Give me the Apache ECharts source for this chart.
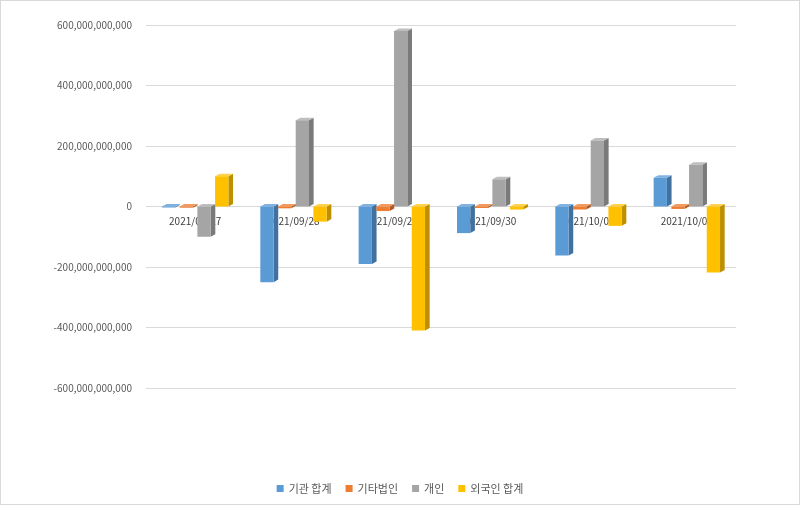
<!DOCTYPE html>
<html>
<head>
<meta charset="utf-8">
<script src="https://cdn.jsdelivr.net/npm/echarts@6/dist/echarts.min.js"></script>
<style>
html,body{margin:0;padding:0;background:#fff;}
#frame{width:800px;height:505px;box-sizing:border-box;border:1px solid #d9d9d9;}
#chart{width:798px;height:503px;}
</style>
</head>
<body>
<div id="frame"><div id="chart"></div></div>
<script>
const categories = ['2021/09/27','2021/09/28','2021/09/29','2021/09/30','2021/10/01','2021/10/05'];
const seriesNames = ['기관 합계','기타법인','개인','외국인 합계'];
const institution = [-3e9, -250e9, -190e9, -88e9, -162e9, 95e9];
const otherCorp = [-4e9, -6e9, -15e9, -5e9, -10e9, -8e9];
const individual = [-100e9, 285e9, 580e9, 90e9, 218e9, 138e9];
const foreigner = [100e9, -50e9, -410e9, -10e9, -64e9, -218e9];
const yTicks = {min: -600e9, max: 600e9, interval: 200e9};
const colors = ['#5B9BD5','#ED7D31','#A5A5A5','#FFC000'];
const sides = ['#41729F','#B15B22','#7A7A7A','#BE9000'];
const tops = ['#7FB2E0','#F29B60','#BEBEBE','#FFD24D'];

const gridTop = 24, gridBottom = 116, chartH = 503;
const gridH = chartH - gridTop - gridBottom;
// place category axis at zero level (zero sits in the middle of the symmetric value range)
const zeroFrac = (0 - yTicks.min) / (yTicks.max - yTicks.min);

function shade(idx){
  return function(params, api){
    const x = api.value(0), v = api.value(1);
    const p = api.coord([x, v]);
    const b = api.coord([x, 0]);
    const band = api.size([1, 0])[0];
    const w = band * 0.135;
    const off = (idx - 1.5) * band * 0.18;
    const left = p[0] + off - w / 2;
    const y1 = Math.min(p[1], b[1]);
    const y2 = Math.max(p[1], b[1]);
    const d = w * 0.35, dy = d * 0.55;
    return {
      type: 'group',
      children: [
        {type:'polygon', shape:{points:[[left+w,y1],[left+w+d,y1-dy],[left+w+d,y2-dy],[left+w,y2]]}, style:{fill:sides[idx]}},
        {type:'polygon', shape:{points:[[left,y1],[left+d,y1-dy],[left+w+d,y1-dy],[left+w,y1]]}, style:{fill:tops[idx]}},
        {type:'rect', shape:{x:left, y:y1, width:w, height:Math.max(y2-y1,1)}, style:{fill:colors[idx]}}
      ]
    };
  };
}

const dataSets = [institution, otherCorp, individual, foreigner];
const chart = echarts.init(document.getElementById('chart'));
chart.setOption({
  animation: false,
  color: colors,
  textStyle: {fontFamily: '"Noto Sans CJK KR", "Noto Sans", sans-serif'},
  grid: {left: 145, right: 63, top: gridTop, bottom: gridBottom, containLabel: false},
  legend: {
    bottom: 5, left: 'center', icon: 'rect', itemWidth: 7, itemHeight: 7, itemGap: 14,
    textStyle: {color: '#595959', fontSize: 11},
    data: seriesNames
  },
  xAxis: {
    type: 'category', data: categories,
    offset: -gridH * zeroFrac,
    axisLine: {show: false, onZero: false}, axisTick: {show: false},
    axisLabel: {color: '#404040', fontSize: 10, margin: 10}
  },
  yAxis: {
    type: 'value', min: yTicks.min, max: yTicks.max, interval: yTicks.interval,
    axisLine: {show: false}, axisTick: {show: false},
    splitLine: {lineStyle: {color: '#d9d9d9'}},
    axisLabel: {color: '#595959', fontSize: 10, margin: 14,
      formatter: v => Math.round(v).toLocaleString('en-US')}
  },
  series: dataSets.map((arr, i) => ({
    name: seriesNames[i],
    type: 'custom',
    itemStyle: {color: colors[i]},
    renderItem: shade(i),
    encode: {x: 0, y: 1},
    data: arr.map((v, k) => [k, v]),
    z: 3
  }))
});
</script>
</body>
</html>
